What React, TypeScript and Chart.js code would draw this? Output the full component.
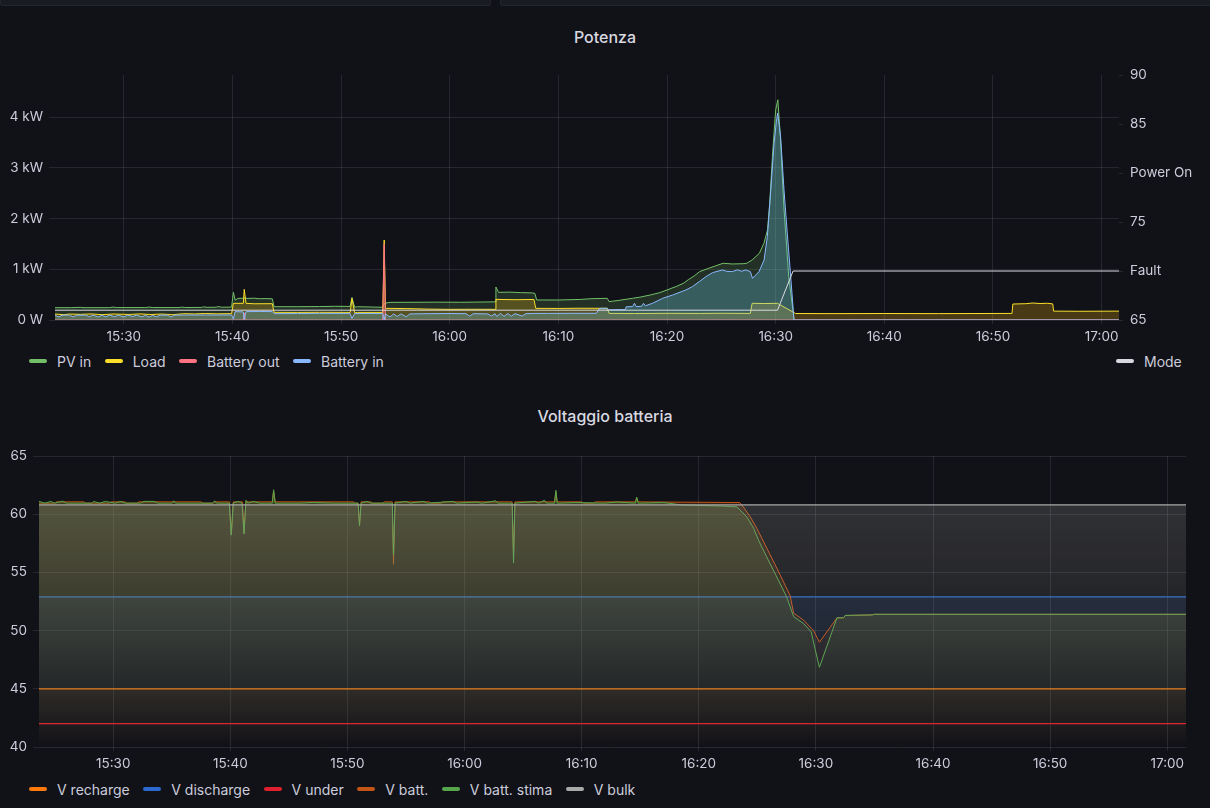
import React, { useEffect, useRef } from "react";
import { Chart, registerables } from "chart.js";
Chart.register(...registerables);

type Pt = [string, number];

// ---------- shared time axis ----------
const rangeStart = "15:23:40";
const rangeEnd = "17:01:36";
const timeTicks = ["15:30", "15:40", "15:50", "16:00", "16:10", "16:20", "16:30", "16:40", "16:50", "17:00"];

// ---------- Potenza (W) ----------
const powerTitle = "Potenza";
const powerNames = ["PV in", "Load", "Battery out", "Battery in"];
const modeName = "Mode";
const powerTicks = [0, 1000, 2000, 3000, 4000];
const powerTickLabels = ["0 W", "1 kW", "2 kW", "3 kW", "4 kW"];

const pvIn: Pt[] = [
  ["15:23:40", 243], ["15:25:10", 243], ["15:26:00", 250], ["15:26:20", 243], ["15:28:40", 243], ["15:29:00", 255],
  ["15:29:20", 245], ["15:32:00", 245], ["15:32:20", 255], ["15:32:40", 245], ["15:35:10", 245], ["15:35:20", 255],
  ["15:35:40", 246], ["15:37:10", 248], ["15:37:20", 260], ["15:37:40", 250], ["15:38:30", 252], ["15:38:40", 265],
  ["15:39:00", 252], ["15:39:55", 255], ["15:40:05", 545], ["15:40:15", 390], ["15:40:30", 425], ["15:41:00", 430],
  ["15:41:10", 440], ["15:41:20", 425], ["15:42:00", 430], ["15:42:30", 420], ["15:43:00", 422], ["15:43:40", 418],
  ["15:43:50", 262], ["15:46:00", 262], ["15:48:00", 265], ["15:49:30", 270], ["15:50:50", 268], ["15:51:00", 445],
  ["15:51:15", 250], ["15:51:30", 262], ["15:53:00", 255], ["15:53:50", 250], ["15:54:00", 330], ["15:54:30", 348],
  ["15:57:00", 350], ["15:59:00", 352], ["16:01:00", 350], ["16:03:00", 355], ["16:04:10", 358], ["16:04:15", 650],
  ["16:04:30", 545], ["16:05:30", 550], ["16:06:30", 540], ["16:07:30", 535], ["16:07:50", 525], ["16:08:00", 395],
  ["16:10:00", 395], ["16:12:00", 405], ["16:13:00", 420], ["16:14:30", 428], ["16:14:40", 362], ["16:15:30", 385],
  ["16:16:50", 428], ["16:17:30", 450], ["16:18:30", 495], ["16:19:20", 540], ["16:20:00", 592], ["16:20:50", 660],
  ["16:21:30", 724], ["16:22:00", 800], ["16:22:30", 870], ["16:23:00", 954], ["16:23:50", 1020], ["16:24:30", 1070],
  ["16:25:10", 1119], ["16:26:00", 1105], ["16:27:00", 1110], ["16:27:20", 1119], ["16:27:50", 1184], ["16:28:30", 1316],
  ["16:28:55", 1513], ["16:29:15", 1777], ["16:29:27", 2303], ["16:29:42", 3224], ["16:30:00", 4145], ["16:30:12", 4343],
  ["16:30:27", 3553], ["16:30:45", 2237], ["16:31:12", 855], ["16:31:42", 0], ["17:01:36", 0],
];

const load: Pt[] = [
  ["15:23:40", 118], ["15:24:30", 105], ["15:25:00", 118], ["15:26:00", 112], ["15:27:00", 120], ["15:28:00", 105],
  ["15:29:00", 118], ["15:30:30", 110], ["15:31:30", 120], ["15:32:30", 108], ["15:33:30", 118], ["15:34:30", 105],
  ["15:35:30", 125], ["15:36:30", 120], ["15:37:30", 128], ["15:38:30", 122], ["15:39:55", 125], ["15:40:05", 329],
  ["15:41:00", 329], ["15:41:05", 604], ["15:41:15", 329], ["15:42:00", 320], ["15:43:40", 322], ["15:43:50", 151],
  ["15:46:00", 150], ["15:48:00", 152], ["15:50:50", 150], ["15:51:00", 427], ["15:51:15", 140], ["15:51:30", 150],
  ["15:53:50", 150], ["15:53:58", 1577], ["15:54:05", 230], ["15:56:00", 225], ["15:58:00", 215], ["16:00:00", 210],
  ["16:02:00", 212], ["16:04:10", 210], ["16:04:15", 407], ["16:06:00", 400], ["16:07:45", 405], ["16:07:55", 230],
  ["16:10:00", 228], ["16:12:00", 232], ["16:14:30", 230], ["16:14:40", 131], ["16:17:00", 128], ["16:20:00", 132],
  ["16:23:00", 130], ["16:25:00", 133], ["16:27:40", 130], ["16:27:50", 329], ["16:29:00", 325], ["16:30:10", 329],
  ["16:31:50", 128], ["16:35:00", 126], ["16:40:00", 128], ["16:45:00", 126], ["16:51:45", 130], ["16:51:50", 315],
  ["16:53:00", 322], ["16:53:40", 335], ["16:54:20", 325], ["16:55:00", 330], ["16:55:30", 318], ["16:55:35", 175],
  ["16:58:00", 172], ["17:01:36", 175],
];

const batteryOut: Pt[] = [
  ["15:23:40", 0], ["15:41:00", 0], ["15:41:05", 140], ["15:41:10", 0], ["15:53:50", 0], ["15:53:58", 1500],
  ["15:54:05", 0], ["17:01:36", 0],
];

const batteryIn: Pt[] = [
  ["15:23:40", 95], ["15:24:00", 60], ["15:24:20", 95], ["15:25:00", 95], ["15:25:20", 60], ["15:25:40", 95],
  ["15:26:30", 95], ["15:26:50", 65], ["15:27:10", 95], ["15:27:40", 60], ["15:28:00", 95], ["15:28:20", 60],
  ["15:28:40", 95], ["15:29:10", 65], ["15:29:30", 95], ["15:30:00", 60], ["15:30:20", 95], ["15:30:50", 70],
  ["15:31:10", 95], ["15:31:40", 60], ["15:32:00", 95], ["15:32:20", 55], ["15:32:40", 90], ["15:33:00", 60],
  ["15:33:20", 95], ["15:34:00", 95], ["15:34:20", 60], ["15:34:40", 95], ["15:36:00", 98], ["15:37:30", 98],
  ["15:39:55", 100], ["15:40:05", 20], ["15:40:15", 165], ["15:41:00", 160], ["15:41:05", 15], ["15:41:15", 165],
  ["15:42:30", 168], ["15:43:40", 165], ["15:43:50", 125], ["15:46:00", 128], ["15:48:00", 130], ["15:50:50", 130],
  ["15:51:00", 30], ["15:51:15", 128], ["15:53:50", 128], ["15:53:58", 0], ["15:54:05", 120], ["15:54:30", 60],
  ["15:54:50", 120], ["15:55:10", 70], ["15:55:30", 120], ["15:56:00", 65], ["15:56:20", 120], ["15:58:00", 125],
  ["16:00:00", 128], ["16:01:30", 125], ["16:01:50", 75], ["16:02:10", 125], ["16:03:30", 120], ["16:03:50", 80],
  ["16:04:10", 125], ["16:04:20", 70], ["16:04:40", 130], ["16:05:00", 72], ["16:05:20", 128], ["16:05:40", 75],
  ["16:06:00", 125], ["16:06:40", 78], ["16:07:00", 125], ["16:07:50", 130], ["16:09:00", 130], ["16:11:00", 132],
  ["16:13:30", 132], ["16:13:47", 230], ["16:14:30", 232], ["16:14:39", 200], ["16:16:10", 205], ["16:16:14", 260],
  ["16:16:50", 265], ["16:17:00", 330], ["16:17:10", 265], ["16:17:40", 270], ["16:17:50", 330], ["16:18:00", 280],
  ["16:18:40", 330], ["16:19:36", 428], ["16:20:31", 493], ["16:21:44", 592], ["16:22:20", 658], ["16:22:58", 757],
  ["16:23:35", 855], ["16:24:11", 934], ["16:25:06", 987], ["16:25:30", 960], ["16:26:00", 954], ["16:26:30", 990],
  ["16:26:50", 960], ["16:27:15", 987], ["16:27:40", 954], ["16:27:52", 822], ["16:28:28", 954], ["16:28:56", 1184],
  ["16:29:14", 1645], ["16:29:33", 2566], ["16:29:51", 3487], ["16:30:04", 3915], ["16:30:11", 4080], ["16:30:27", 3619],
  ["16:30:46", 2566], ["16:31:04", 1711], ["16:31:23", 855], ["16:31:41", 0], ["17:01:36", 0],
];

const mode: Pt[] = [["15:23:40", 66], ["16:30:10", 66], ["16:31:36", 70], ["17:01:36", 70]];
const modeTicks = [65, 70, 75, 80, 85, 90];
const modeTickLabels = ["65", "Fault", "75", "Power On", "85", "90"];

// ---------- Voltaggio batteria (V) ----------
const voltTitle = "Voltaggio batteria";
const voltNames = ["V recharge", "V discharge", "V under", "V batt.", "V batt. stima", "V bulk"];
const voltTicks = [40, 45, 50, 55, 60, 65];

const vRecharge: Pt[] = [["15:23:40", 45], ["17:01:36", 45]];
const vDischarge: Pt[] = [["15:23:40", 52.9], ["17:01:36", 52.9]];
const vUnder: Pt[] = [["15:23:40", 42], ["17:01:36", 42]];
const vBulk: Pt[] = [["15:23:40", 60.8], ["17:01:36", 60.8]];

const vBatt: Pt[] = [
  ["15:23:40", 60.95], ["15:25:00", 60.95], ["15:25:10", 61.06], ["15:27:30", 61.06], ["15:27:40", 60.95], ["15:29:40", 60.95],
  ["15:29:50", 61.06], ["15:31:00", 61.06], ["15:31:10", 60.95], ["15:32:00", 60.95], ["15:32:10", 61.06], ["15:37:30", 61.06],
  ["15:37:40", 60.95], ["15:38:30", 60.95], ["15:38:40", 61.06], ["15:39:55", 61.06], ["15:40:05", 58.3], ["15:40:15", 61.06],
  ["15:41:03", 61.06], ["15:41:10", 58.4], ["15:41:20", 61.06], ["15:43:35", 61.06], ["15:43:42", 62.0], ["15:43:50", 61.06],
  ["15:50:30", 61.06], ["15:50:40", 60.95], ["15:50:55", 60.95], ["15:51:02", 59.1], ["15:51:10", 61.06], ["15:52:00", 61.06],
  ["15:52:10", 60.95], ["15:53:00", 60.95], ["15:53:10", 61.06], ["15:53:50", 61.06], ["15:53:56", 55.7], ["15:54:04", 61.06],
  ["15:57:00", 61.06], ["15:57:10", 60.95], ["15:58:00", 60.95], ["15:58:10", 61.06], ["16:04:04", 61.06], ["16:04:11", 56.5],
  ["16:04:18", 61.06], ["16:07:41", 61.06], ["16:07:48", 61.9], ["16:07:55", 61.06], ["16:10:00", 61.06], ["16:10:10", 60.95],
  ["16:11:00", 60.95], ["16:11:10", 61.06], ["16:14:35", 61.06], ["16:14:42", 61.4], ["16:14:50", 61.06], ["16:23:30", 61.0],
  ["16:23:48", 60.63], ["16:24:24", 59.77], ["16:24:58", 58.77], ["16:25:24", 57.9], ["16:26:06", 56.5], ["16:26:58", 54.75],
  ["16:27:48", 53.0], ["16:28:06", 51.5], ["16:28:57", 50.9], ["16:29:48", 50.0], ["16:30:06", 49.4], ["16:30:18", 49.0],
  ["16:31:48", 51.1], ["16:32:22", 51.1], ["16:32:30", 51.3], ["16:34:48", 51.35], ["16:35:00", 51.4], ["17:01:36", 51.4],
];

const vBattStima: Pt[] = [
  ["15:23:40", 61.1], ["15:24:10", 60.95], ["15:24:40", 61.1], ["15:25:00", 60.95], ["15:25:40", 61.12], ["15:26:00", 60.95],
  ["15:28:10", 60.95], ["15:28:20", 61.1], ["15:28:50", 60.95], ["15:29:20", 61.1], ["15:30:10", 60.95], ["15:30:40", 61.1],
  ["15:31:00", 60.95], ["15:32:20", 60.95], ["15:32:40", 61.1], ["15:33:30", 61.1], ["15:33:50", 60.95], ["15:35:00", 60.95],
  ["15:35:10", 61.15], ["15:35:20", 60.95], ["15:38:30", 60.95], ["15:38:40", 61.15], ["15:38:50", 60.95], ["15:39:55", 60.95],
  ["15:40:05", 58.2], ["15:40:15", 60.95], ["15:40:40", 61.1], ["15:41:00", 60.95], ["15:41:10", 58.3], ["15:41:20", 61.2],
  ["15:41:30", 60.95], ["15:42:00", 61.1], ["15:42:30", 60.95], ["15:43:35", 60.95], ["15:43:42", 62.1], ["15:43:50", 60.95],
  ["15:46:00", 60.95], ["15:47:00", 61.0], ["15:49:00", 60.95], ["15:50:55", 60.95], ["15:51:02", 59.0], ["15:51:10", 60.95],
  ["15:51:40", 61.1], ["15:52:00", 60.95], ["15:53:50", 60.95], ["15:53:56", 56.5], ["15:54:04", 60.95], ["15:55:00", 61.1],
  ["15:55:20", 60.95], ["15:56:30", 61.1], ["15:56:50", 60.95], ["15:59:00", 61.1], ["15:59:20", 60.95], ["16:01:00", 61.05],
  ["16:01:30", 60.95], ["16:02:40", 61.15], ["16:02:50", 60.95], ["16:04:04", 60.95], ["16:04:11", 55.8], ["16:04:18", 60.95],
  ["16:06:00", 61.1], ["16:06:20", 60.95], ["16:06:50", 61.2], ["16:07:00", 60.95], ["16:07:41", 60.95], ["16:07:48", 62.06],
  ["16:07:55", 60.95], ["16:09:30", 61.0], ["16:12:00", 60.95], ["16:13:00", 61.05], ["16:14:35", 60.95], ["16:14:42", 61.46],
  ["16:14:50", 60.95], ["16:17:00", 61.0], ["16:18:30", 60.8], ["16:20:00", 60.75], ["16:22:00", 60.7], ["16:23:16", 60.63],
  ["16:24:06", 59.77], ["16:24:42", 58.77], ["16:25:06", 57.77], ["16:25:48", 56.33], ["16:26:40", 54.6], ["16:27:30", 52.9],
  ["16:28:06", 51.2], ["16:28:57", 50.6], ["16:29:36", 49.9], ["16:29:56", 48.4], ["16:30:18", 46.85], ["16:31:48", 51.1],
  ["16:32:22", 51.1], ["16:32:30", 51.3], ["16:34:48", 51.35], ["16:35:00", 51.4], ["17:01:36", 51.4],
];

// ---------- helpers ----------
const toMin = (t: string) => {
  const p = t.split(":").map(Number);
  return p[0] * 60 + p[1] + (p[2] || 0) / 60;
};
const pts = (arr: Pt[]) => arr.map(([t, v]) => ({ x: toMin(t), y: v }));

const BG = "#111217";
const TEXT = "#ccccdc";
const GRID = "rgba(204,204,220,0.12)";
const FONT = "Inter, 'Noto Sans', sans-serif";
const tickFont = { family: FONT, size: 13.5 };

const fixedTicks = (values: number[]) => (s: any) => {
  s.ticks = values.map((value) => ({ value }));
};

const xScale = () => ({
  type: "linear" as const,
  min: toMin(rangeStart),
  max: toMin(rangeEnd),
  afterBuildTicks: fixedTicks(timeTicks.map(toMin)),
  afterFit: (s: any) => {
    s.height = 30;
  },
  ticks: {
    callback: (_v: any, i: number) => timeTicks[i],
    color: TEXT,
    font: tickFont,
    padding: 5,
    autoSkip: false,
    maxRotation: 0,
  },
  grid: { color: GRID, tickColor: GRID, tickLength: 4 },
  border: { display: false },
});

const gradFill = (rgb: string, a: number) => (ctx: any) => {
  const chart = ctx.chart;
  const area = chart.chartArea;
  if (!area) return `rgba(${rgb},0)`;
  const g = chart.ctx.createLinearGradient(0, area.top, 0, area.bottom);
  g.addColorStop(0, `rgba(${rgb},${a})`);
  g.addColorStop(1, `rgba(${rgb},0)`);
  return g;
};

const line = (label: string, data: Pt[], color: string, fill: any, order: number, yAxisID = "y", width = 1) => ({
  label,
  data: pts(data),
  borderColor: color,
  backgroundColor: fill || "transparent",
  fill: fill ? "start" : false,
  borderWidth: width,
  pointRadius: 0,
  tension: 0,
  order,
  yAxisID,
});

const powerColors = ["#73bf69", "#fade2a", "#ff7383", "#8ab8ff"];
const modeColor = "#d8d9e0";
const voltColors = ["#ff780a", "#2a6ad0", "#e0202f", "#c45516", "#56a64b", "#a9a9a9"];

function PowerChart() {
  const ref = useRef<HTMLCanvasElement>(null);
  useEffect(() => {
    const chart = new Chart(ref.current!, {
      type: "line",
      data: {
        datasets: [
          line(powerNames[0], pvIn, powerColors[0], "rgba(115,191,105,0.18)", 5),
          line(powerNames[1], load, powerColors[1], "rgba(245,178,14,0.25)", 4),
          line(powerNames[2], batteryOut, powerColors[2], "rgba(255,115,131,0.3)", 3),
          line(powerNames[3], batteryIn, powerColors[3], "rgba(110,200,225,0.3)", 2),
          line(modeName, mode, modeColor, null, 1, "y1"),
        ] as any,
      },
      options: {
        animation: false,
        responsive: false,
        layout: { padding: { top: 15, left: 0, right: 0, bottom: 0 } },
        plugins: { legend: { display: false }, tooltip: { enabled: false }, title: { display: false } },
        scales: {
          x: xScale() as any,
          y: {
            position: "left",
            min: 0,
            max: 4830,
            afterBuildTicks: fixedTicks(powerTicks),
            afterFit: (s: any) => {
              s.width = 55;
            },
            ticks: {
              callback: (_v: any, i: number) => powerTickLabels[i],
              color: TEXT,
              font: tickFont,
              padding: 6,
            },
            grid: { color: GRID, tickColor: GRID, tickLength: 6 },
            border: { display: false },
          },
          y1: {
            position: "right",
            min: 65,
            max: 90,
            afterBuildTicks: fixedTicks(modeTicks),
            afterFit: (s: any) => {
              s.width = 91;
            },
            ticks: {
              callback: (_v: any, i: number) => modeTickLabels[i],
              color: TEXT,
              font: tickFont,
              padding: 7,
            },
            grid: { drawOnChartArea: false, color: GRID, tickColor: GRID, tickLength: 4 },
            border: { display: false },
          },
        },
      },
    });
    return () => chart.destroy();
  }, []);
  return <canvas ref={ref} width={1210} height={290} style={{ position: "absolute", left: 0, top: 60 }} />;
}

function VoltChart() {
  const ref = useRef<HTMLCanvasElement>(null);
  useEffect(() => {
    const A = 0.26;
    const chart = new Chart(ref.current!, {
      type: "line",
      data: {
        datasets: [
          line(voltNames[0], vRecharge, voltColors[0], gradFill("255,120,10", A), 6, "y", 1.3),
          line(voltNames[1], vDischarge, voltColors[1], gradFill("31,96,196", A), 5, "y", 1.3),
          line(voltNames[2], vUnder, voltColors[2], gradFill("196,22,42", A), 4, "y", 1.3),
          line(voltNames[3], vBatt, voltColors[3], gradFill("193,92,23", A), 3),
          line(voltNames[4], vBattStima, voltColors[4], gradFill("86,166,75", A), 2),
          line(voltNames[5], vBulk, voltColors[5], gradFill("163,163,163", A), 1, "y", 1.3),
        ] as any,
      },
      options: {
        animation: false,
        responsive: false,
        layout: { padding: { top: 16, left: 0, right: 24, bottom: 0 } },
        plugins: { legend: { display: false }, tooltip: { enabled: false }, title: { display: false } },
        scales: {
          x: xScale() as any,
          y: {
            position: "left",
            min: 40,
            max: 65,
            afterBuildTicks: fixedTicks(voltTicks),
            afterFit: (s: any) => {
              s.width = 39;
            },
            ticks: { color: TEXT, font: tickFont, padding: 6 },
            grid: { color: GRID, tickColor: GRID, tickLength: 6 },
            border: { display: false },
          },
        },
      },
    });
    return () => chart.destroy();
  }, []);
  return <canvas ref={ref} width={1210} height={337} style={{ position: "absolute", left: 0, top: 440 }} />;
}

function Legend({ items, left, top }: { items: [string, string][]; left: number; top: number }) {
  return (
    <div
      style={{
        position: "absolute",
        left,
        top,
        height: 20,
        display: "flex",
        alignItems: "center",
        fontSize: 14,
        color: TEXT,
        whiteSpace: "nowrap",
      }}
    >
      {items.map(([label, color]) => (
        <div key={label} style={{ display: "flex", alignItems: "center", marginRight: 13.5 }}>
          <span style={{ display: "inline-block", width: 18, height: 4, borderRadius: 2, background: color, marginRight: 10 }} />
          <span>{label}</span>
        </div>
      ))}
    </div>
  );
}

const titleStyle = (top: number): React.CSSProperties => ({
  position: "absolute",
  left: 0,
  width: 1210,
  top,
  height: 20,
  lineHeight: "20px",
  textAlign: "center",
  fontSize: 16,
  fontWeight: 500,
  color: "#d8d9e0",
});

export default function App() {
  return (
    <div
      style={{
        position: "fixed",
        left: 0,
        top: 0,
        width: 1210,
        height: 808,
        background: BG,
        overflow: "hidden",
        fontFamily: FONT,
      }}
    >
      <div style={{ position: "absolute", left: 0, top: -10, width: 489, height: 14, background: "#181b1f", border: "1px solid #24262d", borderRadius: 2 }} />
      <div style={{ position: "absolute", left: 500, top: -10, width: 720, height: 14, background: "#181b1f", border: "1px solid #24262d", borderRadius: 2 }} />
      <div style={titleStyle(27)}>{powerTitle}</div>
      <PowerChart />
      <Legend items={powerNames.map((n, i) => [n, powerColors[i]] as [string, string])} left={29} top={351} />
      <Legend items={[[modeName, modeColor]]} left={1116} top={351} />
      <div style={titleStyle(406)}>{voltTitle}</div>
      <VoltChart />
      <Legend items={voltNames.map((n, i) => [n, voltColors[i]] as [string, string])} left={29} top={779} />
    </div>
  );
}
